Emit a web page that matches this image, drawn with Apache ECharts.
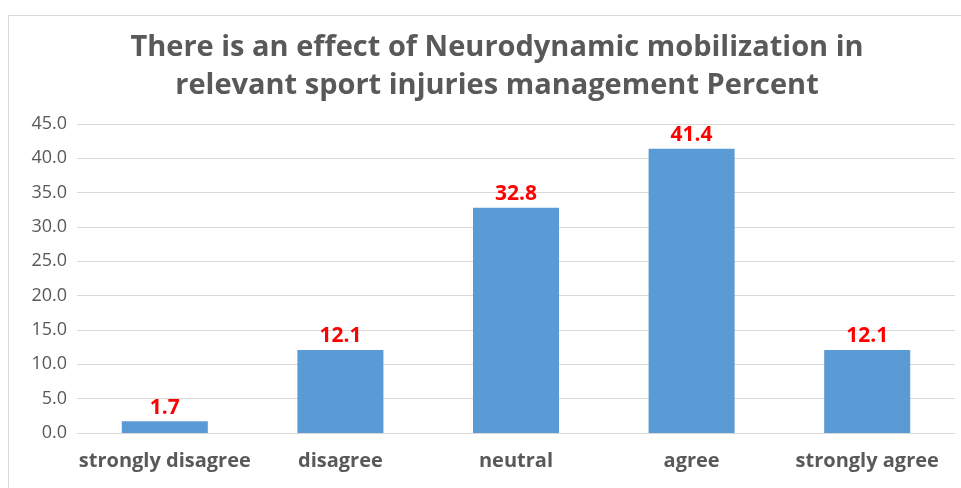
<!DOCTYPE html>
<html>
<head>
<meta charset="utf-8">
<script src="https://cdn.jsdelivr.net/npm/echarts@6/dist/echarts.min.js"></script>
<style>
	html, body { margin: 0; padding: 0; background: #fff; }
	#frame {
		position: absolute;
		left: 8px;
		top: 15px;
		width: 960px;
		height: 480px;
		border: 1px solid #d9d9d9;
		box-sizing: border-box;
	}
	#chart { width: 961px; height: 488px; }
</style>
</head>
<body>
<div id="frame"></div>
<div id="chart"></div>
<script>
// 图表数据
const categories = ['strongly disagree', 'disagree', 'neutral', 'agree', 'strongly agree']
const percents = [1.7, 12.1, 32.8, 41.4, 12.1]
const yMin = 0
const yMax = 45
const yStep = 5

const font = '"Open Sans", sans-serif'

const myChart = echarts.init(document.getElementById('chart'))
const option = {
	animation: false,
	title: {
		text: 'There is an effect of Neurodynamic mobilization in\nrelevant sport injuries management Percent',
		left: 492,
		textAlign: 'center',
		top: 24,
		textStyle: {
			fontFamily: font,
			fontSize: 29,
			fontWeight: 'bold',
			color: '#595959',
			lineHeight: 38,
		},
	},
	grid: {
		left: 77,
		right: 6,
		top: 124,
		bottom: 55,
	},
	xAxis: {
		type: 'category',
		data: categories,
		axisTick: { show: false },
		axisLine: { lineStyle: { color: '#d9d9d9', width: 1 } },
		axisLabel: {
			interval: 0,
			color: '#595959',
			fontFamily: font,
			fontSize: 20,
			fontWeight: 'bold',
			margin: 18,
		},
	},
	yAxis: {
		type: 'value',
		min: yMin,
		max: yMax,
		interval: yStep,
		axisLine: { show: false },
		axisTick: { show: false },
		splitLine: { lineStyle: { color: '#d9d9d9', width: 1 } },
		axisLabel: {
			color: '#595959',
			fontFamily: font,
			fontSize: 18,
			margin: 10,
			formatter: (v) => v.toFixed(1),
		},
	},
	series: [
		{
			type: 'bar',
			data: percents,
			barWidth: '49%',
			itemStyle: { color: '#5b9bd5' },
			label: {
				show: true,
				position: 'top',
				distance: 3,
				color: '#ff0000',
				fontFamily: font,
				fontWeight: 'bold',
				fontSize: 21,
				formatter: (p) => p.value.toFixed(1),
			},
		},
	],
}
myChart.setOption(option)
</script>
</body>
</html>
